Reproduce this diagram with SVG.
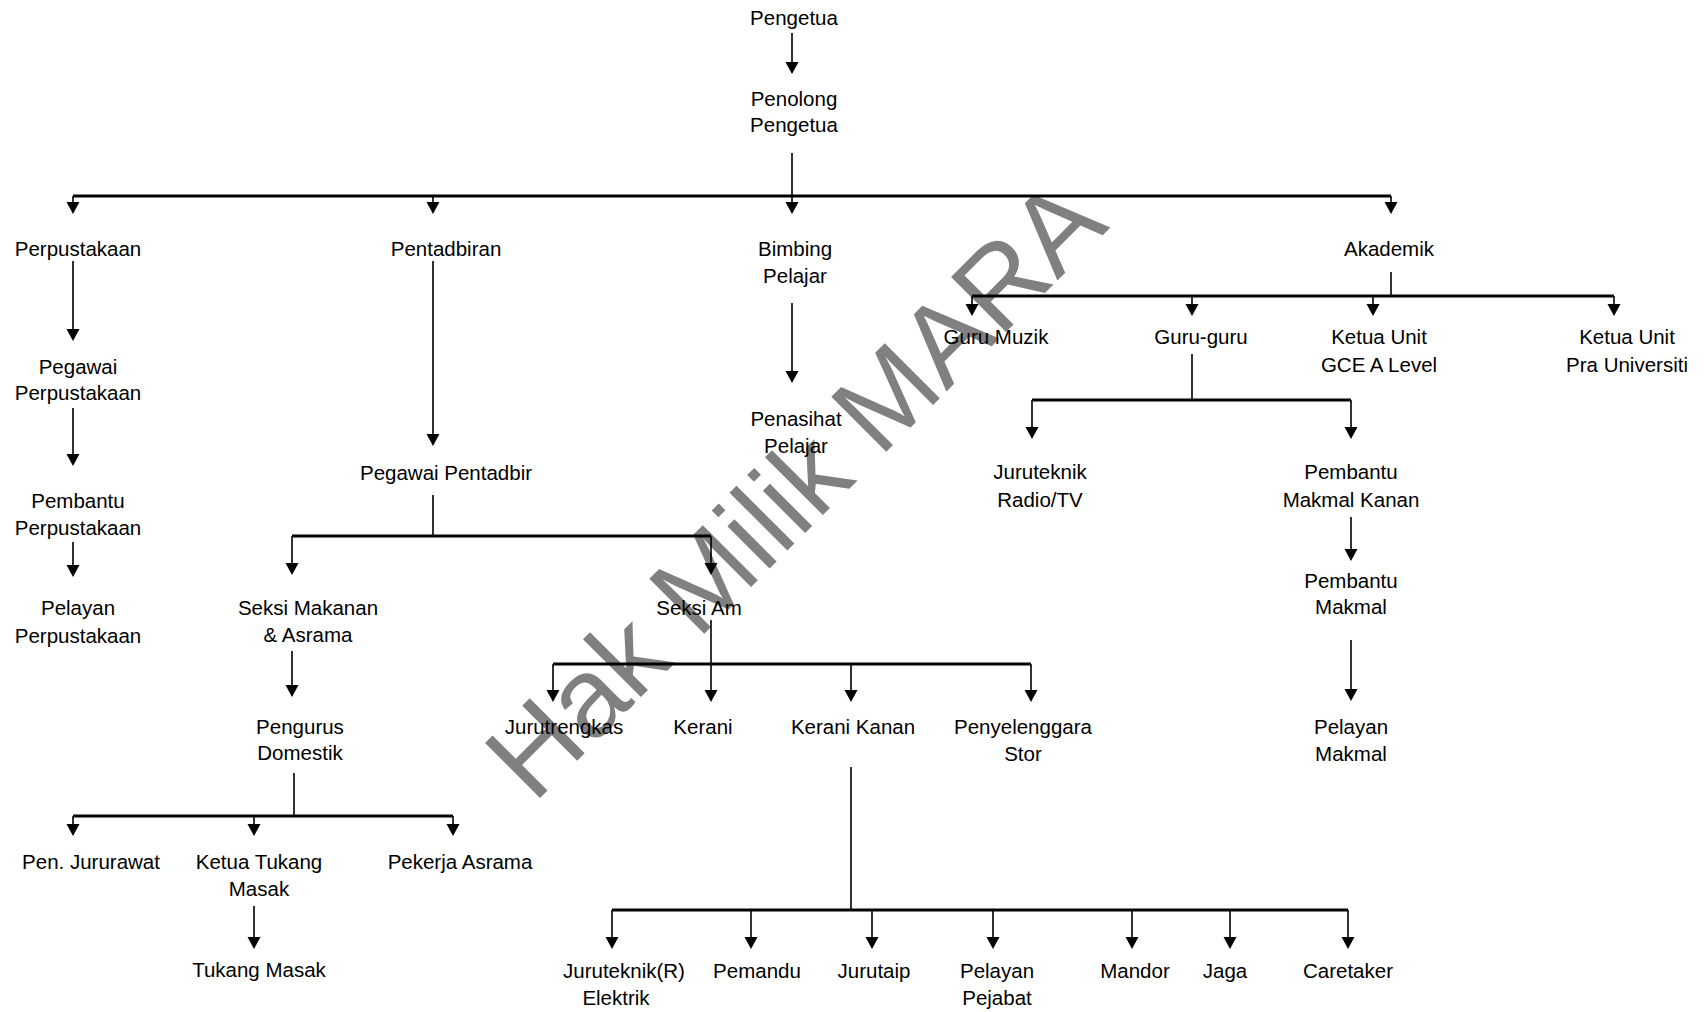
<svg xmlns="http://www.w3.org/2000/svg" width="1707" height="1012" viewBox="0 0 1707 1012">
<defs>
<path id="tri" d="M-6.5,-12 L6.5,-12 L0,0 Z"/>
</defs>
<style>
text{font-family:"Liberation Sans",Arial,sans-serif;font-size:20.5px;fill:#000;text-anchor:middle}
.s{stroke:#000;stroke-width:1.6;fill:none}
.b{stroke:#000;stroke-width:3;fill:none}
.h{fill:#000}
.wm{font-size:113px;fill:#808080}
</style>
<rect width="1707" height="1012" fill="#fff"/>
<text class="wm" transform="translate(793,487) rotate(-45)" x="0" y="41">Hak Milik MARA</text>
<g id="connectors">
<path class="s" d="M792,33V64 M792,153V196 M73,196V206 M433,196V206 M792,196V206 M1391,196V206"/>
<path class="b" d="M73,196H1391"/>
<path class="s" d="M73,261V331 M73,408V456 M73,542V567 M433,261V436 M792,303V373"/>
<path class="s" d="M433,495V536 M292,536V565 M711,536V565"/>
<path class="b" d="M292,536H711"/>
<path class="s" d="M292,651V687 M294,773V816 M73,816V826 M254,816V826 M453,816V826 M254,906V939"/>
<path class="b" d="M73,816H453"/>
<path class="s" d="M711,620V692 M553,664V692 M851,664V692 M1031,664V692"/>
<path class="b" d="M553,664H1031"/>
<path class="s" d="M851,767V910 M612,910V939 M751,910V939 M872,910V939 M993,910V939 M1132,910V939 M1230,910V939 M1348,910V939"/>
<path class="b" d="M612,910H1348"/>
<path class="s" d="M1391,272V296 M972,296V306 M1192,296V306 M1373,296V306 M1614,296V306"/>
<path class="b" d="M972,296H1614"/>
<path class="s" d="M1192,354V400 M1032,400V429 M1351,400V429 M1351,517V551 M1351,640V691"/>
<path class="b" d="M1032,400H1351"/>
<g class="h">
<use href="#tri" x="792" y="74"/>
<use href="#tri" x="73" y="214"/><use href="#tri" x="433" y="214"/><use href="#tri" x="792" y="214"/><use href="#tri" x="1391" y="214"/>
<use href="#tri" x="73" y="341"/><use href="#tri" x="73" y="466"/><use href="#tri" x="73" y="577"/>
<use href="#tri" x="433" y="446"/><use href="#tri" x="792" y="383"/>
<use href="#tri" x="292" y="575"/><use href="#tri" x="711" y="575"/>
<use href="#tri" x="292" y="697"/>
<use href="#tri" x="73" y="836"/><use href="#tri" x="254" y="836"/><use href="#tri" x="453" y="836"/>
<use href="#tri" x="254" y="949"/>
<use href="#tri" x="553" y="702"/><use href="#tri" x="711" y="702"/><use href="#tri" x="851" y="702"/><use href="#tri" x="1031" y="702"/>
<use href="#tri" x="612" y="949"/><use href="#tri" x="751" y="949"/><use href="#tri" x="872" y="949"/><use href="#tri" x="993" y="949"/><use href="#tri" x="1132" y="949"/><use href="#tri" x="1230" y="949"/><use href="#tri" x="1348" y="949"/>
<use href="#tri" x="972" y="316"/><use href="#tri" x="1192" y="316"/><use href="#tri" x="1373" y="316"/><use href="#tri" x="1614" y="316"/>
<use href="#tri" x="1032" y="439"/><use href="#tri" x="1351" y="439"/>
<use href="#tri" x="1351" y="561"/><use href="#tri" x="1351" y="701"/>
</g>
</g>
<g id="n-pengetua"><text x="794" y="25">Pengetua</text></g>
<g id="n-penolong"><text x="794" y="106">Penolong</text><text x="794" y="132">Pengetua</text></g>
<g id="n-perpustakaan"><text x="78" y="256">Perpustakaan</text></g>
<g id="n-pentadbiran"><text x="446" y="256">Pentadbiran</text></g>
<g id="n-bimbing"><text x="795" y="256">Bimbing</text><text x="795" y="283">Pelajar</text></g>
<g id="n-akademik"><text x="1389" y="256">Akademik</text></g>
<g id="n-pegawai-perp"><text x="78" y="374">Pegawai</text><text x="78" y="400">Perpustakaan</text></g>
<g id="n-pembantu-perp"><text x="78" y="508">Pembantu</text><text x="78" y="535">Perpustakaan</text></g>
<g id="n-pelayan-perp"><text x="78" y="615">Pelayan</text><text x="78" y="643">Perpustakaan</text></g>
<g id="n-pegawai-pentadbir"><text x="446" y="480">Pegawai Pentadbir</text></g>
<g id="n-seksi-makanan"><text x="308" y="615">Seksi Makanan</text><text x="308" y="642">&amp; Asrama</text></g>
<g id="n-seksi-am"><text x="699" y="615">Seksi Am</text></g>
<g id="n-pengurus"><text x="300" y="734">Pengurus</text><text x="300" y="760">Domestik</text></g>
<g id="n-jururawat"><text x="91" y="869">Pen. Jururawat</text></g>
<g id="n-ketua-tukang"><text x="259" y="869">Ketua Tukang</text><text x="259" y="896">Masak</text></g>
<g id="n-pekerja"><text x="460" y="869">Pekerja Asrama</text></g>
<g id="n-tukang"><text x="259" y="977">Tukang Masak</text></g>
<g id="n-jurutrengkas"><text x="564" y="734">Jurutrengkas</text></g>
<g id="n-kerani"><text x="703" y="734">Kerani</text></g>
<g id="n-kerani-kanan"><text x="853" y="734">Kerani Kanan</text></g>
<g id="n-penyelenggara"><text x="1023" y="734">Penyelenggara</text><text x="1023" y="761">Stor</text></g>
<g id="n-juruteknik-r"><text x="624" y="978">Juruteknik(R)</text><text x="616" y="1005">Elektrik</text></g>
<g id="n-pemandu"><text x="757" y="978">Pemandu</text></g>
<g id="n-jurutaip"><text x="874" y="978">Jurutaip</text></g>
<g id="n-pelayan-pejabat"><text x="997" y="978">Pelayan</text><text x="997" y="1005">Pejabat</text></g>
<g id="n-mandor"><text x="1135" y="978">Mandor</text></g>
<g id="n-jaga"><text x="1225" y="978">Jaga</text></g>
<g id="n-caretaker"><text x="1348" y="978">Caretaker</text></g>
<g id="n-penasihat"><text x="796" y="426">Penasihat</text><text x="796" y="453">Pelajar</text></g>
<g id="n-guru-muzik"><text x="996" y="344">Guru Muzik</text></g>
<g id="n-guru-guru"><text x="1201" y="344">Guru-guru</text></g>
<g id="n-gce"><text x="1379" y="344">Ketua Unit</text><text x="1379" y="372">GCE A Level</text></g>
<g id="n-pra-u"><text x="1627" y="344">Ketua Unit</text><text x="1627" y="372">Pra Universiti</text></g>
<g id="n-juruteknik-tv"><text x="1040" y="479">Juruteknik</text><text x="1040" y="507">Radio/TV</text></g>
<g id="n-pembantu-mk"><text x="1351" y="479">Pembantu</text><text x="1351" y="507">Makmal Kanan</text></g>
<g id="n-pembantu-m"><text x="1351" y="588">Pembantu</text><text x="1351" y="614">Makmal</text></g>
<g id="n-pelayan-m"><text x="1351" y="734">Pelayan</text><text x="1351" y="761">Makmal</text></g>
</svg>
